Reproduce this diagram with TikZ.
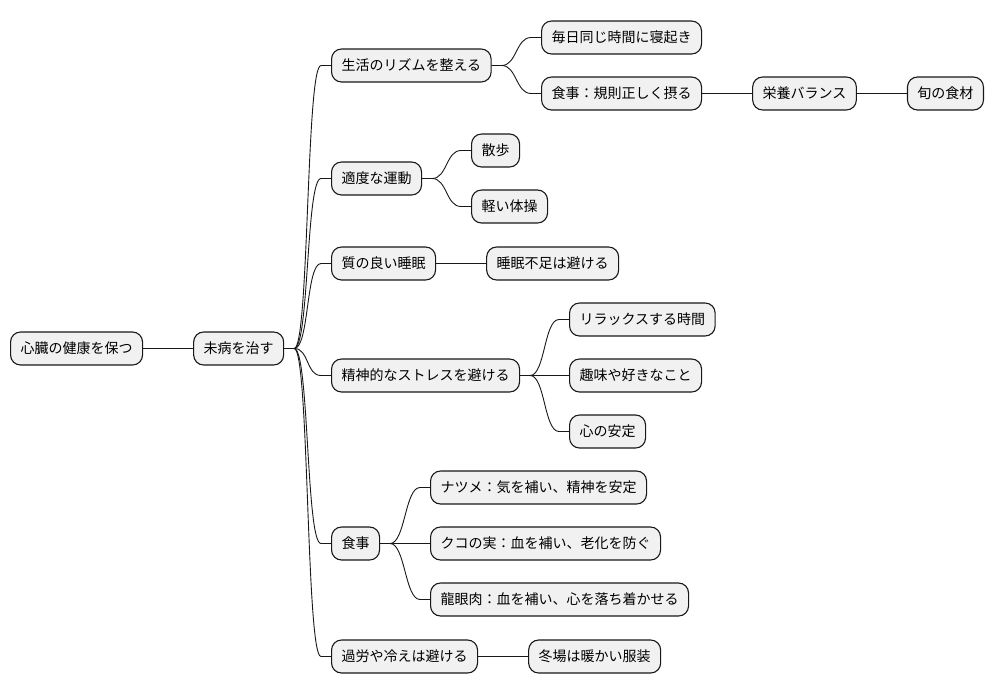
\documentclass[tikz,border=0pt]{standalone}
\usepackage{fontspec}
\setmainfont{Noto Sans CJK JP}
\usepackage{tikz}
\usetikzlibrary{positioning,calc}
\definecolor{mmfill}{HTML}{F1F1F1}
\definecolor{mmline}{HTML}{181818}

\begin{document}
\begin{tikzpicture}[x=1pt,y=-1pt,
  font=\fontsize{14pt}{16pt}\selectfont,
  topic/.style={draw=mmline,line width=1.1pt,fill=mmfill,rounded corners=10pt,
                inner xsep=10pt,inner ysep=0pt,minimum height=33pt,anchor=west},
  branch/.style={draw=mmline,line width=0.9pt},
]
\useasboundingbox (0,0) rectangle (992,696);

% root and centre
\node[topic] (root) at (10,348.5) {心臓の健康を保つ};
\node[topic,right=50pt of root] (mibyo) {未病を治す};

% daily rhythm
\node[topic] (rhythm) at (331,65.5) {生活のリズムを整える};
\node[topic] (wake) at (541,37.5) {毎日同じ時間に寝起き};
\node[topic] (meal) at (541,93.5) {食事：規則正しく摂る};
\node[topic,right=50pt of meal] (balance) {栄養バランス};
\node[topic,right=50pt of balance] (season) {旬の食材};

% exercise and sleep
\node[topic] (exercise) at (331,178.5) {適度な運動};
\node[topic] (walk) at (471,150.5) {散歩};
\node[topic] (gym) at (471,206.5) {軽い体操};
\node[topic] (sleep) at (331,263.5) {質の良い睡眠};
\node[topic,right=50pt of sleep] (nosleep) {睡眠不足は避ける};

% stress
\node[topic] (stress) at (331,375.5) {精神的なストレスを避ける};
\node[topic] (relax) at (569,319.5) {リラックスする時間};
\node[topic] (hobby) at (569,375.5) {趣味や好きなこと};
\node[topic] (calm) at (569,431.5) {心の安定};

% diet
\node[topic] (diet) at (331,543.5) {食事};
\node[topic] (jujube) at (430,487.5) {ナツメ：気を補い、精神を安定};
\node[topic] (goji) at (430,543.5) {クコの実：血を補い、老化を防ぐ};
\node[topic] (longan) at (430,599.5) {龍眼肉：血を補い、心を落ち着かせる};

% overwork
\node[topic] (overwork) at (331,656.5) {過労や冷えは避ける};
\node[topic,right=50pt of overwork] (warm) {冬場は暖かい服装};

% branches
\foreach \a/\b in {root/mibyo,mibyo/rhythm,mibyo/exercise,mibyo/sleep,mibyo/stress,
  mibyo/diet,mibyo/overwork,rhythm/wake,rhythm/meal,meal/balance,balance/season,
  exercise/walk,exercise/gym,sleep/nosleep,stress/relax,stress/hobby,stress/calm,
  diet/jujube,diet/goji,diet/longan,overwork/warm}
  \draw[branch] (\a.east) -- ++(10,0) .. controls +(15,0) and +(-15,0)
    .. ($(\b.west)+(-10,0)$) -- (\b.west);

\end{tikzpicture}
\end{document}
